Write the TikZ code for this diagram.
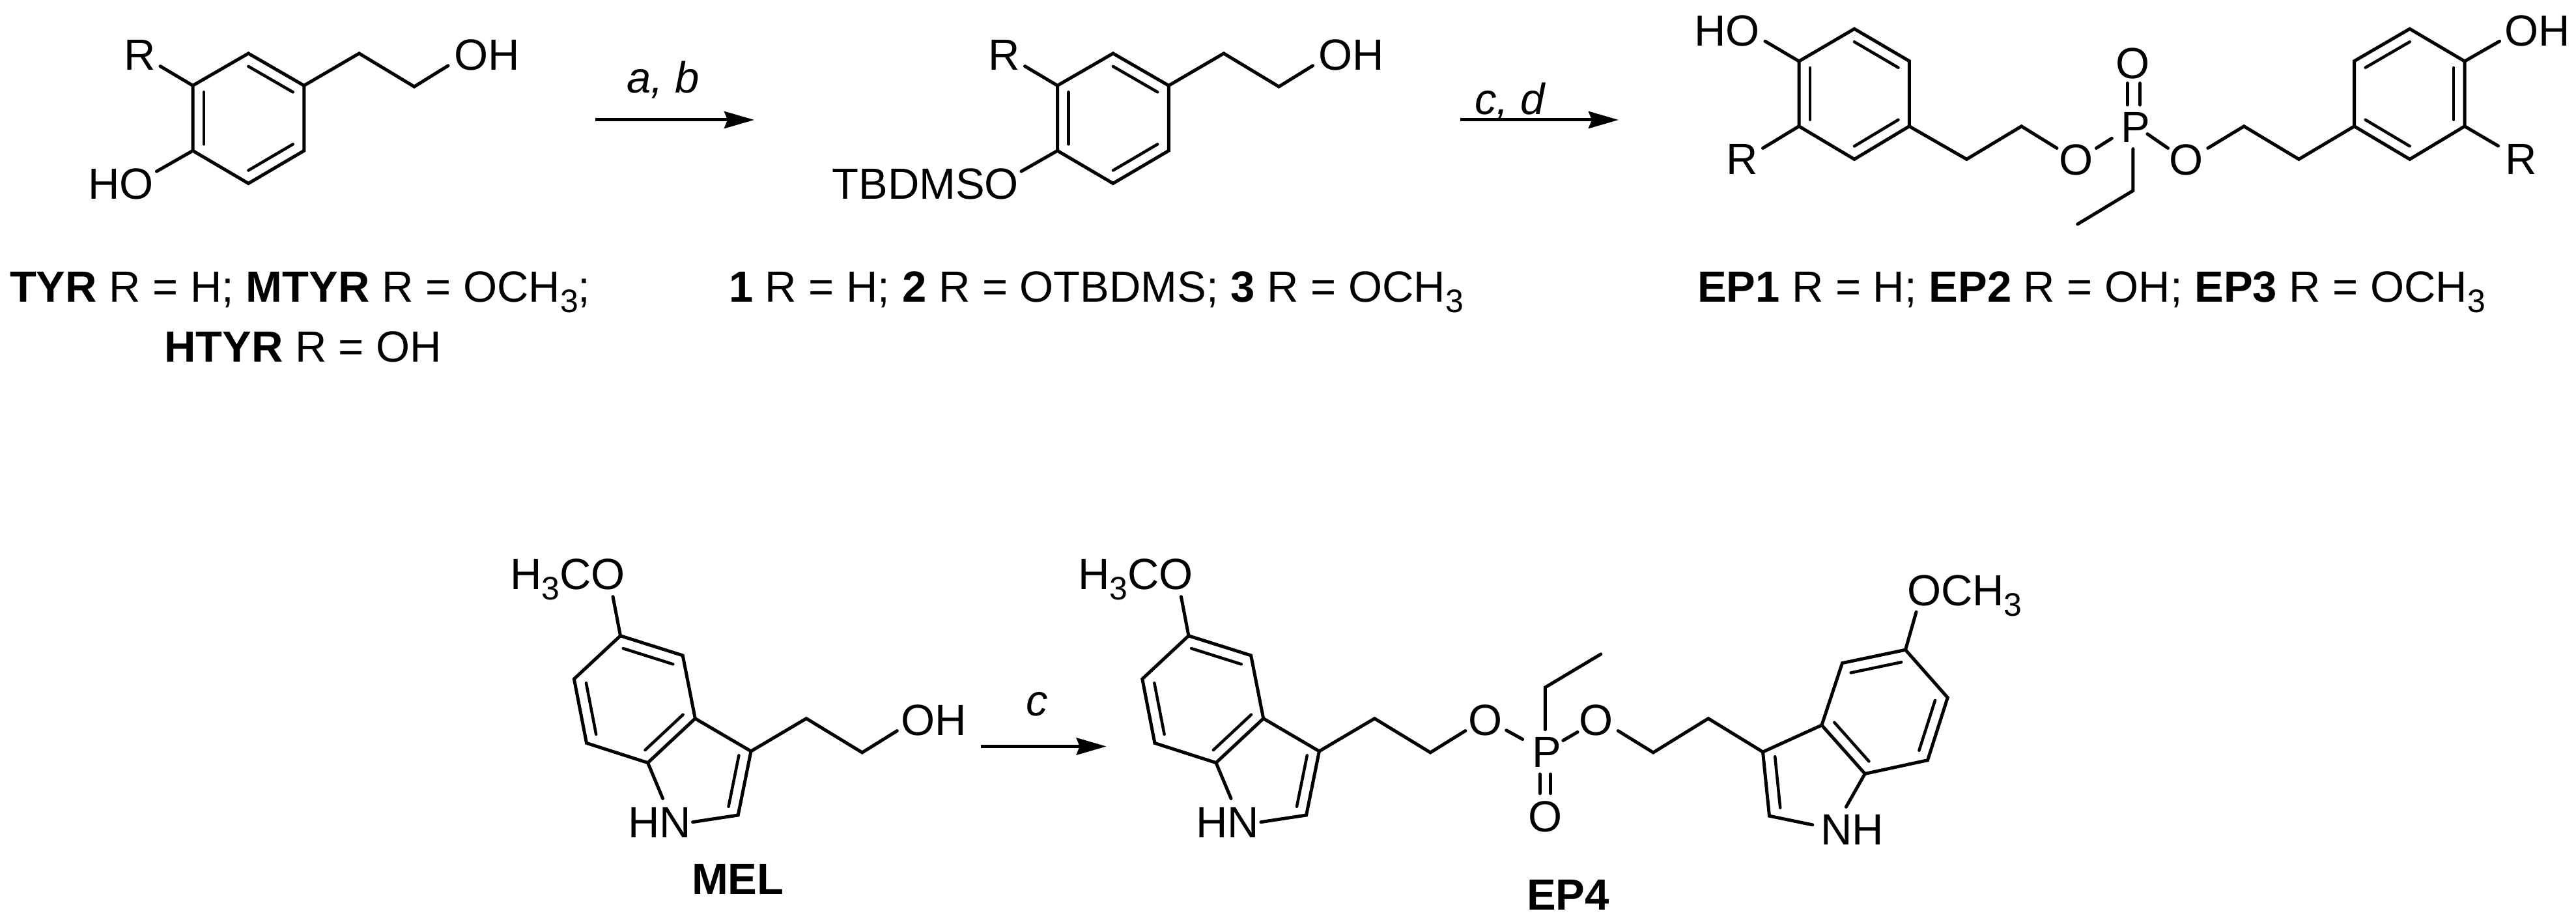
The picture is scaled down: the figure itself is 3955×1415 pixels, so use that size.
\documentclass[tikz,border=0pt]{standalone}
\usepackage{fontspec}
\setmainfont{Liberation Sans}
\usetikzlibrary{calc,arrows.meta}
\newcommand\subthree{\raisebox{-16pt}{\fontsize{50}{60}\selectfont 3}}
\tikzset{
  lab/.style={inner sep=0pt,outer sep=0pt,font=\fontsize{67}{80}\selectfont},
  bond/.style={line width=5pt,line join=miter,line cap=round},
  innerbond/.style={line width=4.5pt,line cap=round},
  rxn/.style={line width=5pt,-{Stealth[length=46pt,width=26pt,inset=5pt]}}
}
% inner line of a double bond a-b, towards centre c
\newcommand\dblbond[3]{\draw[innerbond] ($(#1)!.2!(#3)$) -- ($(#2)!.2!(#3)$);}
% hydroxyethyl-phenol unit: prefix, x shift
\newcommand\tyrunit[2]{
  \begin{scope}[xshift=#2pt]
    \coordinate (#1t) at (381.4,82);
    \coordinate (#1ur) at (466.8,131.3);
    \coordinate (#1lr) at (466.8,231.3);
    \coordinate (#1b) at (381.4,281.5);
    \coordinate (#1ll) at (296,231.3);
    \coordinate (#1ul) at (296,131.3);
    \coordinate (#1c) at (381.4,181.5);
    \coordinate (#1e1) at (551.4,82);
    \coordinate (#1e2) at (636,133);
    \coordinate (#1ohb) at (688,100.8);
    \coordinate (#1rb) at (246,101.6);
    \coordinate (#1xb) at (240.5,263);
    \draw[bond] (#1t) -- (#1ur) -- (#1lr) -- (#1b) -- (#1ll) -- (#1ul) -- cycle;
    \draw[bond] (#1ur) -- (#1e1) -- (#1e2) -- (#1ohb);
    \draw[bond] (#1ul) -- (#1rb);
    \draw[bond] (#1ll) -- (#1xb);
    \dblbond{#1t}{#1ur}{#1c}
    \dblbond{#1ul}{#1ll}{#1c}
    \dblbond{#1lr}{#1b}{#1c}
    \node[lab,anchor=base west] (#1R) at (190,107.6) {R};
    \node[lab,anchor=base west] (#1OH) at (697,108) {OH};
  \end{scope}
}
% indole unit with chain: prefix, x shift
\newcommand\melunit[2]{
  \begin{scope}[xshift=#2pt]
    \coordinate (#1c5) at (952.5,975.7);
    \coordinate (#1c4) at (1048.2,1005.9);
    \coordinate (#1c3a) at (1067.3,1102.7);
    \coordinate (#1c7a) at (994.6,1170.6);
    \coordinate (#1c7) at (900.5,1140.4);
    \coordinate (#1c6) at (881.4,1042);
    \coordinate (#1c3) at (1153,1152.9);
    \coordinate (#1c2) at (1133.2,1251);
    \coordinate (#1nb1) at (1017.6,1225.5);
    \coordinate (#1nb2) at (1063.5,1261.6);
    \coordinate (#1e1) at (1238,1102.7);
    \coordinate (#1e2) at (1323.7,1154.9);
    \coordinate (#1ob) at (1377.3,1121.6);
    \coordinate (#1mb) at (941,915.7);
    \coordinate (#1cb) at (974,1073);
    \coordinate (#1cp) at (1060,1185);
    \draw[bond] (#1c5) -- (#1c4) -- (#1c3a) -- (#1c7a) -- (#1c7) -- (#1c6) -- cycle;
    \draw[bond] (#1c3a) -- (#1c3) -- (#1c2) -- (#1nb2);
    \draw[bond] (#1c7a) -- (#1nb1);
    \draw[bond] (#1c3) -- (#1e1) -- (#1e2) -- (#1ob);
    \draw[bond] (#1c5) -- (#1mb);
    \dblbond{#1c5}{#1c4}{#1cb}
    \dblbond{#1c6}{#1c7}{#1cb}
    \dblbond{#1c3a}{#1c7a}{#1cb}
    \dblbond{#1c3}{#1c2}{#1cp}
    \node[lab,anchor=base west] (#1HN) at (964,1285) {HN};
    \node[lab,anchor=base west] (#1Me) at (783,904.7) {H\subthree CO};
  \end{scope}
}
\begin{document}
\begin{tikzpicture}[x=1pt,y=-1pt]
\useasboundingbox (0,0) rectangle (3955,1415);
\fill[white] (0,0) rectangle (3955,1415);

% --- TYR family
\tyrunit{a}{0}
\node[lab,anchor=base east] (aHO) at (236,305.6) {HO};
\node[lab,anchor=base west] (capA1) at (15,463) {\textbf{TYR} R = H; \textbf{MTYR} R = OCH\subthree;};
\node[lab,anchor=base west] (capA2) at (252,555) {\textbf{HTYR} R = OH};

% --- protected
\tyrunit{b}{1327.5}
\node[lab,anchor=base east] (bTB) at (1564,305.6) {TBDMSO};
\node[lab,anchor=base west] (capB) at (1119,463) {\textbf{1} R = H; \textbf{2} R = OTBDMS; \textbf{3} R = OCH\subthree};

% --- arrows top
\coordinate (ar1s) at (914,184);
\coordinate (ar1e) at (1158,184);
\draw[rxn] (ar1s) -- (ar1e);
\node[lab,anchor=base] (ar1l) at (1018,143) {\textit{a, b}};
\coordinate (ar2s) at (2242,184);
\coordinate (ar2e) at (2485,184);
\draw[rxn] (ar2s) -- (ar2e);
\node[lab,anchor=base] (ar2l) at (2319,176) {\textit{c, d}};

% --- EP1-3
\coordinate (Lt) at (2847,44.3);
\coordinate (Lur) at (2931.3,93.7);
\coordinate (Llr) at (2931.3,193.8);
\coordinate (Lb) at (2847,244.4);
\coordinate (Lll) at (2762,193.8);
\coordinate (Lul) at (2762,94);
\coordinate (Lc) at (2847,144);
\coordinate (Rt) at (3699.7,44.3);
\coordinate (Rul) at (3614.6,93.7);
\coordinate (Rll) at (3614.6,193.8);
\coordinate (Rb) at (3699.7,244.4);
\coordinate (Rlr) at (3784,193.8);
\coordinate (Rur) at (3784,94);
\coordinate (Rc) at (3699.7,144);
\coordinate (Lhob) at (2710,63.3);
\coordinate (Lrb) at (2706.5,227.4);
\coordinate (Rhob) at (3837.6,63.3);
\coordinate (Rrb) at (3835.6,224);
\coordinate (Le1) at (3019.4,244.4);
\coordinate (Le2) at (3103.6,193.8);
\coordinate (Le3) at (3158,227.4);
\coordinate (Re3) at (3389.7,227.4);
\coordinate (Re2) at (3445.2,193.8);
\coordinate (Re1) at (3529.4,244.4);
\coordinate (OP1a) at (3218.4,227.4);
\coordinate (OP1b) at (3242.3,212.3);
\coordinate (OP2a) at (3296.9,205.6);
\coordinate (OP2b) at (3328.5,227.4);
\coordinate (dbA1) at (3266,127.7);
\coordinate (dbA2) at (3266,161);
\coordinate (dbB1) at (3285.4,127.7);
\coordinate (dbB2) at (3285.4,161);
\coordinate (et0) at (3274.9,228.5);
\coordinate (et1) at (3274.9,292.6);
\coordinate (et2) at (3189.7,344);
\draw[bond] (Lt) -- (Lur) -- (Llr) -- (Lb) -- (Lll) -- (Lul) -- cycle;
\draw[bond] (Rt) -- (Rur) -- (Rlr) -- (Rb) -- (Rll) -- (Rul) -- cycle;
\dblbond{Lt}{Lur}{Lc}
\dblbond{Lul}{Lll}{Lc}
\dblbond{Llr}{Lb}{Lc}
\dblbond{Rt}{Rul}{Rc}
\dblbond{Rur}{Rlr}{Rc}
\dblbond{Rll}{Rb}{Rc}
\draw[bond] (Lul) -- (Lhob);
\draw[bond] (Lll) -- (Lrb);
\draw[bond] (Rur) -- (Rhob);
\draw[bond] (Rlr) -- (Rrb);
\draw[bond] (Llr) -- (Le1) -- (Le2) -- (Le3);
\draw[bond] (Rll) -- (Re1) -- (Re2) -- (Re3);
\draw[bond] (OP1a) -- (OP1b);
\draw[bond] (OP2a) -- (OP2b);
\draw[bond] (dbA1) -- (dbA2);
\draw[bond] (dbB1) -- (dbB2);
\draw[bond] (et0) -- (et1) -- (et2);
\node[lab,anchor=base east] (LHO) at (2702,71) {HO};
\node[lab,anchor=base east] (LR) at (2699,268) {R};
\node[lab,anchor=base west] (ROH) at (3845,71) {OH};
\node[lab,anchor=base west] (RR) at (3846,268) {R};
\node[lab,anchor=base] (O1) at (3187.8,269) {O};
\node[lab,anchor=base] (O2) at (3357,269) {O};
\node[lab,anchor=base] (O3) at (3275,120.6) {O};
\node[lab,anchor=base west] (P1) at (3256,218.7) {P};
\node[lab,anchor=base west] (capC) at (2606,463) {\textbf{EP1} R = H; \textbf{EP2} R = OH; \textbf{EP3} R = OCH\subthree};

% --- MEL
\melunit{m}{0}
\node[lab,anchor=base west] (mOH) at (1383,1128.6) {OH};
\node[lab,font=\fontsize{67}{80}\selectfont\bfseries,anchor=base west] (capM) at (1062,1372.5) {MEL};
\coordinate (ar3s) at (1506,1145.5);
\coordinate (ar3e) at (1698.7,1145.5);
\draw[rxn] (ar3s) -- (ar3e);
\node[lab,anchor=base] (ar3l) at (1592,1098.8) {\textit{c}};

% --- EP4
\melunit{n}{872.4}
\coordinate (qO1a) at (2312.7,1120.8);
\coordinate (qO1b) at (2337.6,1134.5);
\coordinate (qO2a) at (2399.8,1136.5);
\coordinate (qO2b) at (2422,1123.5);
\coordinate (qe0) at (2484.3,1121.6);
\coordinate (qe1) at (2538.2,1154.9);
\coordinate (qe2) at (2622.8,1102.7);
\coordinate (qc3) at (2706.5,1154);
\coordinate (qc3a) at (2796.9,1112.9);
\coordinate (qc4) at (2828.5,1017.6);
\coordinate (qc5) at (2925.5,997.3);
\coordinate (qc6) at (2990.2,1070.6);
\coordinate (qc7) at (2959.5,1166.7);
\coordinate (qc7a) at (2863.3,1187.5);
\coordinate (qc2) at (2716.5,1252.2);
\coordinate (qn1) at (2834.3,1238.4);
\coordinate (qn2) at (2782.8,1265.9);
\coordinate (qmb) at (2942,939.2);
\coordinate (qcb) at (2893.9,1092);
\coordinate (qcp) at (2800,1190);
\coordinate (qet0) at (2372.4,1119.6);
\coordinate (qet1) at (2372.4,1054.9);
\coordinate (qet2) at (2457.8,1003.9);
\coordinate (qdA1) at (2364,1188);
\coordinate (qdA2) at (2364,1217.6);
\coordinate (qdB1) at (2380.7,1188);
\coordinate (qdB2) at (2380.7,1217.6);
\draw[bond] (qO1a) -- (qO1b);
\draw[bond] (qO2a) -- (qO2b);
\draw[bond] (qe0) -- (qe1) -- (qe2) -- (qc3);
\draw[bond] (qc3a) -- (qc4) -- (qc5) -- (qc6) -- (qc7) -- (qc7a) -- cycle;
\draw[bond] (qc3a) -- (qc3) -- (qc2) -- (qn2);
\draw[bond] (qc7a) -- (qn1);
\draw[bond] (qc5) -- (qmb);
\draw[bond] (qet0) -- (qet1) -- (qet2);
\draw[bond] (qdA1) -- (qdA2);
\draw[bond] (qdB1) -- (qdB2);
\dblbond{qc4}{qc5}{qcb}
\dblbond{qc6}{qc7}{qcb}
\dblbond{qc3a}{qc7a}{qcb}
\dblbond{qc3}{qc2}{qcp}
\node[lab,anchor=base] (qO1) at (2280.3,1128.6) {O};
\node[lab,anchor=base] (qO2) at (2451,1128.6) {O};
\node[lab,anchor=base] (qO3) at (2372.4,1276.5) {O};
\node[lab,anchor=base west] (qP) at (2352,1177) {P};
\node[lab,anchor=base west] (qNH) at (2795,1296.9) {NH};
\node[lab,anchor=base west] (qOM) at (2928,929.4) {OCH\subthree};
\node[lab,font=\fontsize{67}{80}\selectfont\bfseries,anchor=base west] (capN) at (2344,1396.9) {EP4};
\end{tikzpicture}
\end{document}
